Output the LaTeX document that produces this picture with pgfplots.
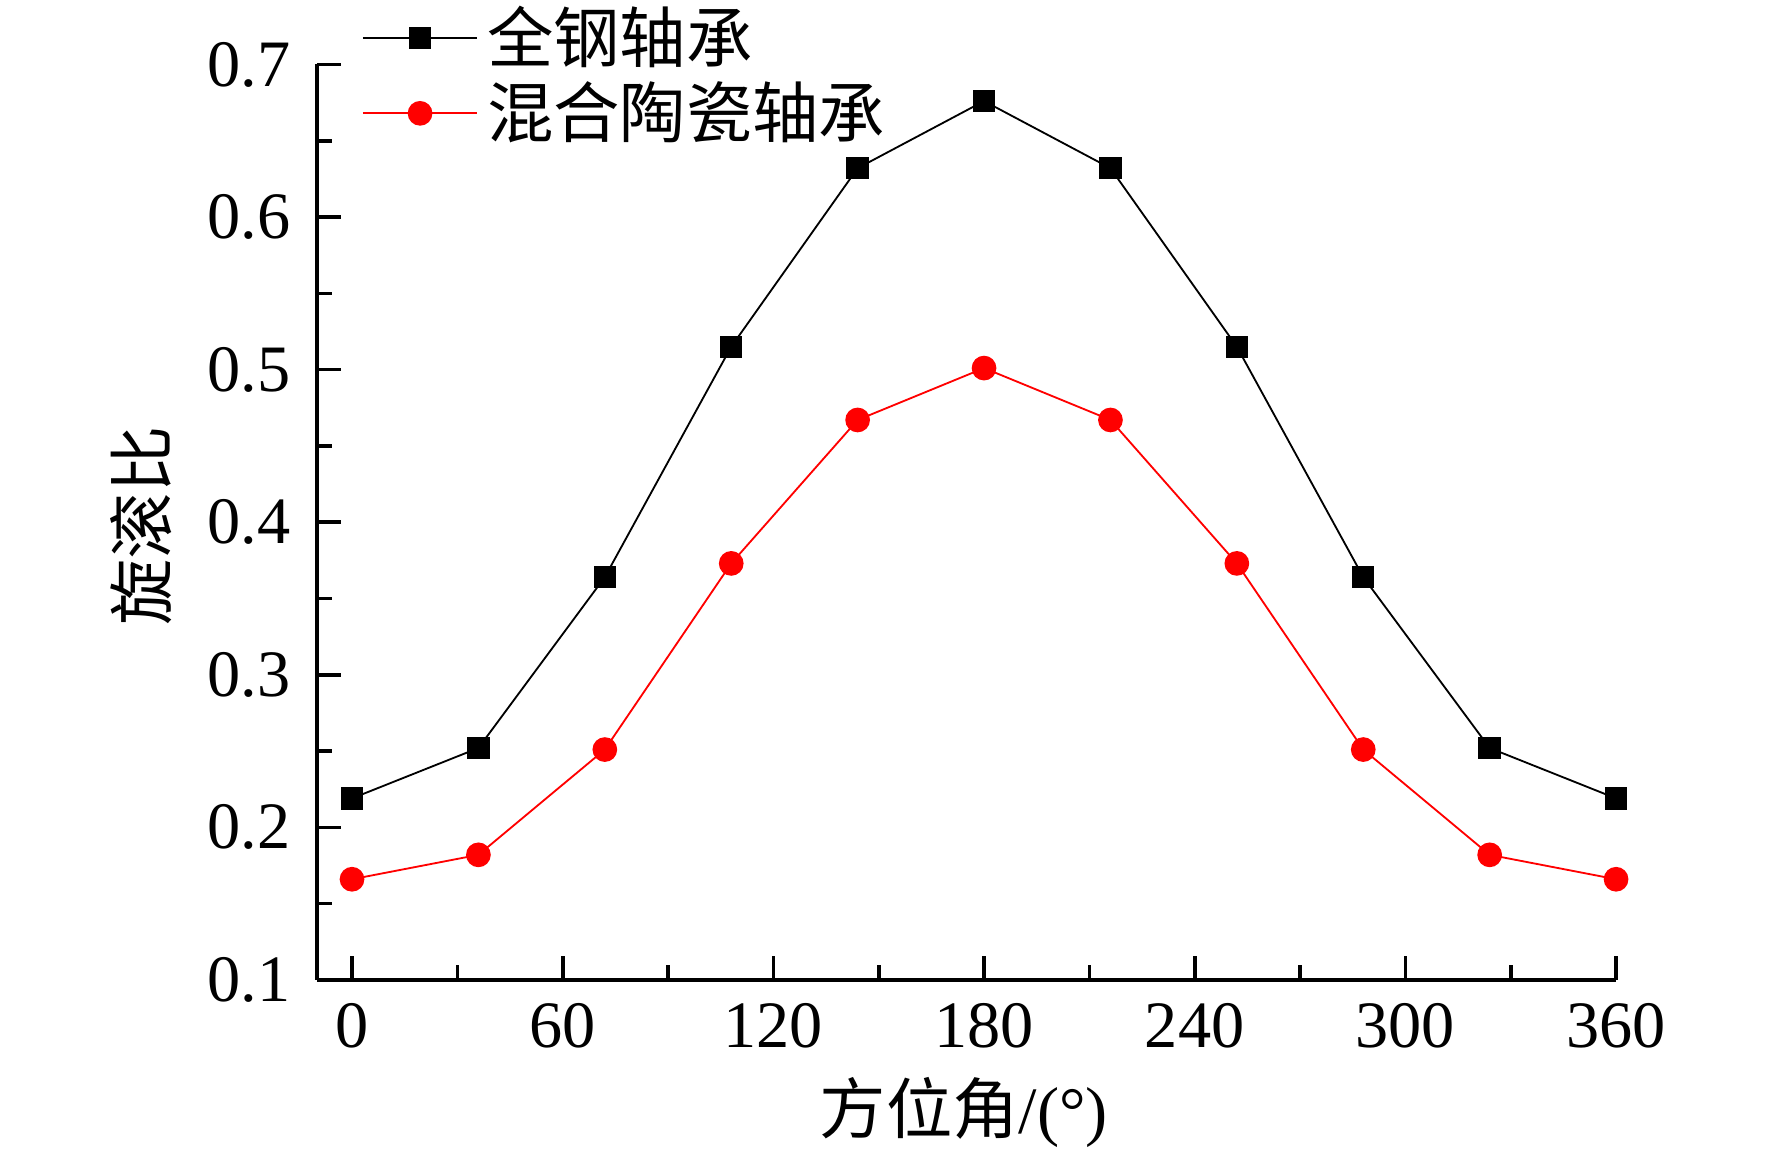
\documentclass[border=0pt]{standalone}
\usepackage{fontspec}
\setmainfont{Liberation Serif}
\newfontfamily\cjk{Noto Sans CJK SC}
\usepackage{pgfplots}
\pgfplotsset{compat=1.18}
\definecolor{myred}{RGB}{255,0,0}
\begin{document}
\begin{tikzpicture}
\begin{axis}[
  name=ax,
  scale only axis,
  width=284.1pt, height=200.2pt,
  xmin=-10, xmax=360, ymin=0.1, ymax=0.7,
  axis lines*=left,
  axis line style={line width=1pt},
  xtick={0,60,120,180,240,300,360},
  minor xtick={30,90,150,210,270,330},
  ytick={0.1,0.2,0.3,0.4,0.5,0.6,0.7},
  minor ytick={0.15,0.25,0.35,0.45,0.55,0.65},
  tick align=inside,
  major tick length=5.3pt, minor tick length=3.2pt,
  tick style={line width=0.8pt, black},
  /pgf/number format/assume math mode=true,
  yticklabel style={/pgf/number format/fixed, /pgf/number format/precision=1, /pgf/number format/fixed zerofill, xshift=-2.3pt},
  xticklabel style={yshift=-1.7pt},
  tick label style={font=\fontsize{14.5}{17}\selectfont},
  xlabel={{\cjk 方位角}/(°)},
  ylabel={\cjk 旋滚比},
  label style={font=\fontsize{14.5}{17}\selectfont},
  xlabel style={at={(axis description cs:0.498,-0.145)}, anchor=center},
  ylabel style={at={(axis description cs:-0.135,0.496)}, anchor=center},
  legend style={draw=none, fill=none, at={(axis description cs:0.034,1.0745)}, anchor=north west,
    font=\fontsize{14.5}{17}\selectfont\cjk, row sep=-1.3pt, inner sep=0pt},
  legend cell align=left,
  legend image code/.code={\draw[mark repeat=2,mark phase=2,#1] plot coordinates {(0pt,0pt) (12.5pt,0pt) (25pt,0pt)};},
]
\addplot[black, line width=0.4pt, mark=square*, mark size=2.25pt, mark options={solid}] coordinates {
(0,0.219) (36,0.252) (72,0.364) (108,0.515) (144,0.632) (180,0.676)
(216,0.632) (252,0.515) (288,0.364) (324,0.252) (360,0.219)};
\addlegendentry{全钢轴承}
\addplot[myred, line width=0.4pt, mark=*, mark size=2.5pt, mark options={solid}] coordinates {
(0,0.166) (36,0.182) (72,0.251) (108,0.373) (144,0.467) (180,0.501)
(216,0.467) (252,0.373) (288,0.251) (324,0.182) (360,0.166)};
\addlegendentry{混合陶瓷轴承}
\end{axis}
\pgfresetboundingbox
\useasboundingbox ([xshift=-69.3pt,yshift=-38.5pt]ax.south west) rectangle ([xshift=34.1pt,yshift=14.1pt]ax.north east);
\end{tikzpicture}
\end{document}
